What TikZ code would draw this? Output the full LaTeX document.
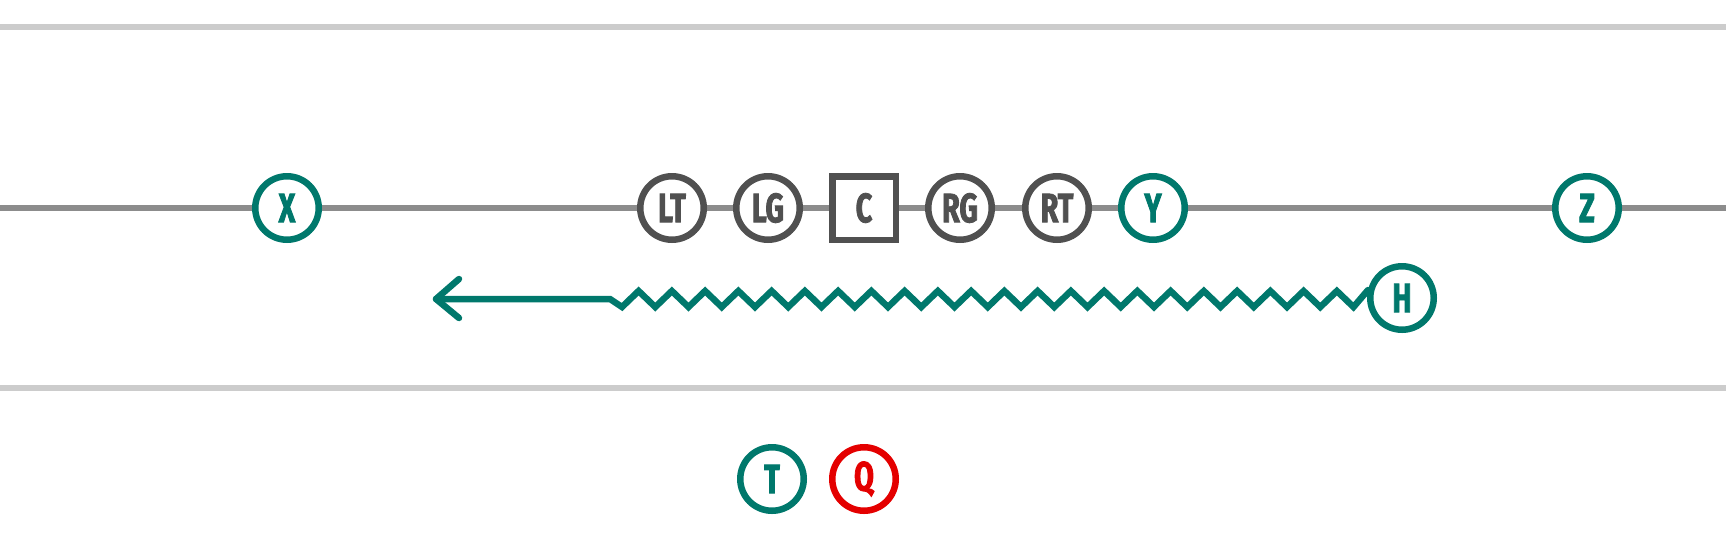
\documentclass[tikz,border=0pt]{standalone}
\usepackage{fontspec}
\newfontfamily\labfont{Fira Sans}[FakeStretch=0.7,FakeBold=2]
\definecolor{teal}{RGB}{0,120,108}
\definecolor{lineman}{RGB}{80,80,80}
\definecolor{qred}{RGB}{228,0,0}
\definecolor{fieldline}{RGB}{204,204,204}
\definecolor{losline}{RGB}{140,140,140}
\begin{document}
\begin{tikzpicture}[x=1pt,y=-1pt,
  player/.style={circle,draw,fill=white,line width=6.5pt,minimum size=63.5pt,inner sep=0pt,
    font=\labfont\bfseries\fontsize{41}{44}\selectfont},
  skill/.style={player,draw=teal,text=teal},
  oline/.style={player,draw=lineman,text=lineman},
  center/.style={oline,rectangle,minimum size=63.5pt},
  qb/.style={player,draw=qred,text=qred},
  route/.style={draw=teal,line width=6.5pt,line join=miter,line cap=round},
  barb/.style={draw=teal,line width=6.5pt,line cap=round,line join=round}]
\useasboundingbox (0,0) rectangle (1726,555);
% field lines
\draw[fieldline,line width=5.5pt] (0,27) -- (1726,27);
\draw[fieldline,line width=5.5pt] (0,388) -- (1726,388);
\draw[losline,line width=6pt] (0,207.5) -- (1726,207.5);
% players
\node[skill] (X) at (287,208) {X};
\node[oline] (LT) at (672,208) {LT};
\node[oline] (LG) at (768,208) {LG};
\node[center] (C) at (864,208) {C};
\node[oline] (RG) at (960,208) {RG};
\node[oline] (RT) at (1057,208) {RT};
\node[skill] (Y) at (1153,208) {Y};
\node[skill] (Z) at (1587,208) {Z};
\node[skill] (H) at (1402,298) {H};
\node[skill] (T) at (772,479) {T};
\node[qb] (Q) at (864,479) {Q};
% route
\coordinate (zz) at (610,299);
\coordinate (tip) at (436,299);
\draw[route] (H.167) -- (1353.5,307)
  \foreach \k in {21,20,19,18,17,16,15,14,13,12,11,10,9,8,7,6,5,4,3,2,1,0} {
    -- ({622+33.25*\k+16.6},291) -- ({622+33.25*\k},307) }
  -- (zz) -- (tip);
\draw[barb] ([shift={(23,-20)}]tip) -- (tip) -- ([shift={(23,19)}]tip);
\end{tikzpicture}
\end{document}
